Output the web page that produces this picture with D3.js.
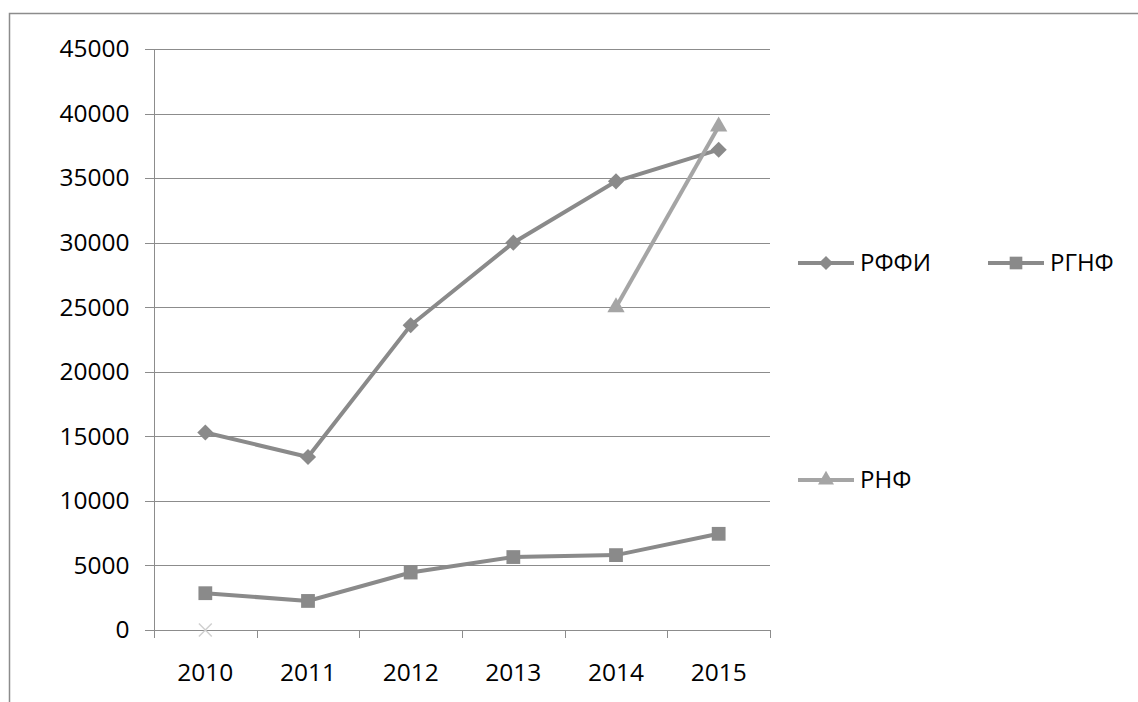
<!DOCTYPE html>
<html>
<head>
<meta charset="utf-8">
<script src="https://cdnjs.cloudflare.com/ajax/libs/d3/7.8.5/d3.min.js"></script>
<style>
  body { margin: 0; background: #fff; overflow: hidden; }
  text { font-family: "Open Sans", sans-serif; fill: #000; }
</style>
</head>
<body>
<div id="chart"></div>
<script>
// chart data
const years = ['2010', '2011', '2012', '2013', '2014', '2015'];
const rffi = [15300, 13400, 23600, 30000, 34750, 37200];
const rgnf = [2850, 2250, 4450, 5650, 5800, 7450];
const rnf = [null, null, null, null, 25000, 39000];
const other = [0, null, null, null, null, null];
const yTicks = [0, 5000, 10000, 15000, 20000, 25000, 30000, 35000, 40000, 45000];

const width = 1138, height = 702;
const margin = { left: 154, right: 368, top: 49, bottom: 72 };

const svg = d3.select('#chart')
    .append('svg')
    .attr('width', width)
    .attr('height', height)
    .style('display', 'block');

// outer chart border (runs off the page at right and bottom)
svg.append('rect')
    .attr('x', 9.5).attr('y', 13.5)
    .attr('width', 1200).attr('height', 800)
    .attr('fill', 'none')
    .attr('stroke', '#8c8c8c')
    .attr('stroke-width', 1.5);

const x = d3.scaleBand()
    .domain(years)
    .range([margin.left, width - margin.right]);

const y = d3.scaleLinear()
    .domain([0, 45000])
    .range([height - margin.bottom, margin.top]);

// gridlines
svg.append('g')
    .selectAll('line')
    .data(yTicks)
    .enter()
    .append('line')
    .attr('x1', margin.left - 9)
    .attr('x2', width - margin.right)
    .attr('y1', d => Math.round(y(d)) + 0.5)
    .attr('y2', d => Math.round(y(d)) + 0.5)
    .attr('stroke', '#8c8c8c')
    .attr('stroke-width', 1);

// y axis
const yAxis = svg.append('g')
    .attr('transform', `translate(${margin.left + 0.5},0)`)
    .call(d3.axisLeft(y).tickValues(yTicks).tickSize(0).tickPadding(25).tickFormat(d3.format('d')));
yAxis.select('.domain').remove();
yAxis.selectAll('text').style('font-size', '24.5px');

svg.append('line')
    .attr('x1', margin.left + 0.5).attr('x2', margin.left + 0.5)
    .attr('y1', margin.top).attr('y2', height - margin.bottom + 8)
    .attr('stroke', '#8c8c8c');

// x axis ticks at band boundaries
const bounds = years.map(d => x(d)).concat([x(years[years.length - 1]) + x.bandwidth()]);
svg.append('g')
    .selectAll('line')
    .data(bounds)
    .enter()
    .append('line')
    .attr('x1', d => Math.round(d) + 0.5)
    .attr('x2', d => Math.round(d) + 0.5)
    .attr('y1', y(0))
    .attr('y2', y(0) + 8)
    .attr('stroke', '#8c8c8c');

const xAxis = svg.append('g')
    .attr('transform', `translate(0,${y(0)})`)
    .call(d3.axisBottom(x).tickSize(0).tickPadding(34));
xAxis.select('.domain').remove();
xAxis.selectAll('text').style('font-size', '24.5px');

const line = d3.line()
    .defined(d => d != null)
    .x((d, i) => x(years[i]) + x.bandwidth() / 2)
    .y(d => y(d));

function drawSeries(data, color, shape, size, rot) {
    svg.append('path')
        .datum(data)
        .attr('fill', 'none')
        .attr('stroke', color)
        .attr('stroke-width', 4)
        .attr('d', line);
    svg.append('g')
        .selectAll('path')
        .data(data.map((v, i) => ({ v, i })).filter(d => d.v != null))
        .enter()
        .append('path')
        .attr('d', d3.symbol().type(shape).size(size))
        .attr('transform', d => `translate(${x(years[d.i]) + x.bandwidth() / 2},${y(d.v)}) rotate(${rot})`)
        .attr('fill', color);
}

drawSeries(rffi, '#8a8a8a', d3.symbolSquare, 130, 45);
drawSeries(rgnf, '#8a8a8a', d3.symbolSquare, 190, 0);
drawSeries(rnf, '#a5a5a5', d3.symbolTriangle, 130, 0);

// light X marker
svg.append('g')
    .selectAll('path')
    .data(other.map((v, i) => ({ v, i })).filter(d => d.v != null))
    .enter()
    .append('path')
    .attr('d', d3.symbol().type(d3.symbolX).size(110))
    .attr('transform', d => `translate(${x(years[d.i]) + x.bandwidth() / 2},${y(d.v)})`)
    .attr('fill', 'none')
    .attr('stroke', '#d0d0d0')
    .attr('stroke-width', 1.5);

// legend
const legendItems = [
    { name: 'РФФИ', color: '#8a8a8a', shape: d3.symbolSquare, size: 100, rot: 45, lx: 798, ly: 263 },
    { name: 'РГНФ', color: '#8a8a8a', shape: d3.symbolSquare, size: 160, rot: 0, lx: 988, ly: 263 },
    { name: 'РНФ', color: '#a5a5a5', shape: d3.symbolTriangle, size: 110, rot: 0, lx: 798, ly: 480 }
];
const lg = svg.append('g')
    .selectAll('g')
    .data(legendItems)
    .enter()
    .append('g')
    .attr('transform', d => `translate(${d.lx},${d.ly})`);
lg.append('line')
    .attr('x1', 0).attr('x2', 56)
    .attr('stroke', d => d.color)
    .attr('stroke-width', 4);
lg.append('path')
    .attr('d', d => d3.symbol().type(d.shape).size(d.size)())
    .attr('transform', d => `translate(28,0) rotate(${d.rot})`)
    .attr('fill', d => d.color);
lg.append('text')
    .attr('x', 62)
    .attr('dy', '0.35em')
    .style('font-size', '24px')
    .text(d => d.name);
</script>
</body>
</html>
